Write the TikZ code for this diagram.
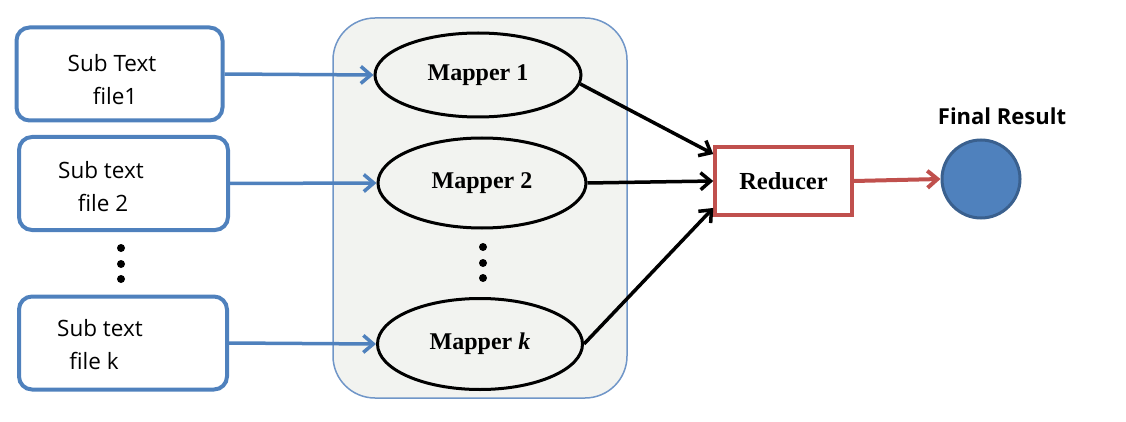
\documentclass[tikz,border=0pt]{standalone}
\usepackage{fontspec}
\setmainfont{Liberation Serif}
\newfontfamily\sansf{Open Sans}
\usetikzlibrary{shapes.geometric,arrows.meta}
\definecolor{boxblue}{RGB}{79,129,189}
\definecolor{contfill}{RGB}{242,243,240}
\definecolor{contline}{RGB}{112,150,200}
\definecolor{redc}{RGB}{192,80,77}
\definecolor{circline}{RGB}{58,96,142}
\begin{document}
\begin{tikzpicture}[x=1pt,y=-1pt,
  subbox/.style={draw=boxblue,line width=4pt,rounded corners=13pt,minimum width=206pt,minimum height=93pt,inner sep=0pt},
  subtxt/.style={font=\sansf\fontsize{22.5}{27}\selectfont,inner sep=0pt},
  mapper/.style={ellipse,draw=black,line width=3pt,inner sep=0pt,font=\bfseries\fontsize{24}{28}\selectfont},
  bluearrow/.style={draw=boxblue,line width=3.5pt,-{Straight Barb[length=10pt,width=17pt,line width=3.5pt]}},
  blackarrow/.style={draw=black,line width=3.5pt,-{Straight Barb[length=10pt,width=17pt,line width=3.5pt]}},
  redarrow/.style={draw=redc,line width=4pt,-{Straight Barb[length=10pt,width=17pt,line width=4pt]}},
  dotc/.style={circle,fill=black,inner sep=0pt,minimum size=8pt}]
\useasboundingbox (0,0) rectangle (1126,422);
% container
\node[draw=contline,fill=contfill,line width=1.5pt,rounded corners=42pt,minimum width=294pt,minimum height=380pt,inner sep=0pt] (cont) at (480,208) {};
% sub boxes
\node[subbox] (b1) at (119.5,74) {};
\node[subbox,minimum width=209pt] (b2) at (123.5,183.5) {};
\node[subbox,minimum width=208pt] (b3) at (123,343) {};
\node[subtxt] (t1a) at (112,63) {Sub Text};
\node[subtxt] (t1b) at (115,96) {file1};
\node[subtxt] (t2a) at (101,170) {Sub text};
\node[subtxt] (t2b) at (103,203) {file 2};
\node[subtxt] (t3a) at (100,328) {Sub text};
\node[subtxt] (t3b) at (94,361) {file k};
% left dots
\node[dotc] (ld1) at (121,248) {};
\node[dotc] (ld2) at (121,264) {};
\node[dotc] (ld3) at (121,279) {};
% mappers
\node[mapper,minimum width=206pt,minimum height=84pt] (m1) at (478,75) {Mapper 1};
\node[mapper,minimum width=208pt,minimum height=90pt] (m2) at (482,183) {Mapper 2};
\node[mapper,minimum width=205pt,minimum height=91pt] (m3) at (480,344) {Mapper \textit{k}};
% mapper dots
\node[dotc] (md1) at (483,247) {};
\node[dotc] (md2) at (483,263) {};
\node[dotc] (md3) at (483,278) {};
% reducer
\node[draw=redc,line width=3.5pt,fill=white,minimum width=137pt,minimum height=68pt,inner sep=0pt,font=\bfseries\fontsize{24.5}{28}\selectfont] (red) at (783.5,181) {Reducer};
% result
\node[circle,draw=circline,fill=boxblue,line width=3pt,minimum size=78pt,inner sep=0pt] (res) at (981,179) {};
\node[font=\sansf\bfseries\fontsize{22}{26}\selectfont,inner sep=0pt] (fr) at (1002,116) {Final Result};
% arrows
\draw[bluearrow] (b1.east) -- (m1.west);
\draw[bluearrow] (b2.east) -- (m2.west);
\draw[bluearrow] (b3.east) -- (m3.west);
\draw[blackarrow] (m1.-5) -- (red.159);
\draw[blackarrow] (m2.east) -- (red.west);
\draw[blackarrow] (m3.east) -- (red.201);
\draw[redarrow] (red.east) -- (res.west);
\end{tikzpicture}
\end{document}
